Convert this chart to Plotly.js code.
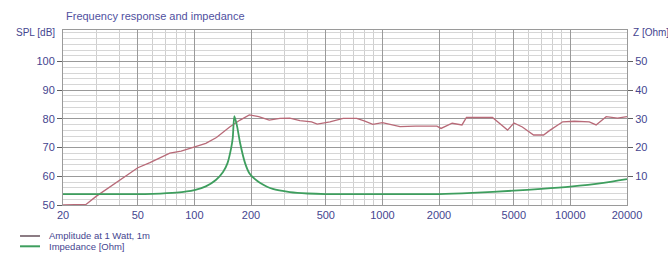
<!DOCTYPE html>
<html>
<head>
<meta charset="utf-8">
<script src="https://cdn.plot.ly/plotly-3.0.1.min.js"></script>
<style>html,body{margin:0;padding:0;background:#fff;}#chart{width:668px;height:254px;}</style>
</head>
<body>
<div id="chart"></div>
<script>
// SPL (dB)
var splFreq = [20, 26.5, 30, 40, 50, 58, 74, 85, 98, 115, 131, 154, 175, 196, 220, 250, 285, 322, 364, 420, 450, 526, 618, 730, 800, 889, 1000, 1240, 1500, 1950, 2050, 2350, 2650, 2800, 3300, 3850, 4100, 4630, 5010, 5550, 6370, 7200, 7800, 9100, 10500, 12600, 13700, 15500, 17800, 20000];
var splDb   = [50, 50.2, 53, 58.5, 63, 64.8, 68.1, 68.8, 70.2, 71.5, 73.5, 77.2, 79.6, 81.4, 80.8, 79.6, 80.2, 80.3, 79.4, 79.0, 78.2, 79.0, 80.2, 80.2, 79.3, 78.1, 78.7, 77.3, 77.5, 77.5, 76.7, 78.5, 77.9, 80.5, 80.5, 80.5, 79.0, 76.1, 78.6, 77.2, 74.4, 74.4, 76.1, 79.0, 79.2, 79.0, 77.9, 80.8, 80.3, 80.8];

// Impedance (Ohm)
var zFreq = [20, 40, 60, 80, 100, 115, 130, 142, 150, 157, 160, 163, 168, 175, 186, 196, 210, 224, 261, 322, 400, 500, 1000, 2000, 3000, 5000, 7000, 10000, 15000, 20000];
var zOhm  = [3.8, 3.8, 3.9, 4.3, 5.2, 6.5, 8.7, 11.5, 14.6, 20, 23.5, 31, 28, 21.6, 14.6, 11.1, 9, 7.7, 5.6, 4.5, 4.0, 3.8, 3.8, 3.8, 4.2, 5.0, 5.6, 6.4, 7.7, 9.0];

var seriesNames = ['Amplitude at 1 Watt, 1m', 'Impedance [Ohm]'];
var xTicks = [20, 50, 100, 200, 500, 1000, 2000, 5000, 10000, 20000];
var xMinor = [30, 40, 60, 70, 80, 90, 300, 400, 600, 700, 800, 900, 3000, 4000, 6000, 7000, 8000, 9000];
var yTicks = [50, 60, 70, 80, 90, 100];
var y2Ticks = [10, 20, 30, 40, 50];

var labelColor = '#45458f';
var splColor = '#b86a78';
var zColor = '#3e9e5e';

var traces = [
  {x: splFreq, y: splDb, type: 'scatter', mode: 'lines', name: seriesNames[0],
   line: {color: splColor, width: 1.3}},
  {x: zFreq, y: zOhm, type: 'scatter', mode: 'lines', name: seriesNames[1], yaxis: 'y2',
   line: {color: zColor, width: 1.8, shape: 'spline', smoothing: 0.6}}
];

// manual legend (paper coordinates)
var legY = [-0.177, -0.236];
var legColors = ['#8c7c84', zColor];
var shapes = [];
var annotations = [
  {text: 'Frequency response and impedance', xref: 'paper', yref: 'paper', x: 0.002, y: 1.08,
   xanchor: 'left', yanchor: 'middle', showarrow: false, font: {size: 11, color: '#5050a0'}},
  {text: 'SPL [dB]', xref: 'paper', yref: 'paper', x: -0.01, y: 0.985,
   xanchor: 'right', yanchor: 'middle', showarrow: false, font: {size: 10, color: labelColor}},
  {text: 'Z [Ohm]', xref: 'paper', yref: 'paper', x: 1.007, y: 0.985,
   xanchor: 'left', yanchor: 'middle', showarrow: false, font: {size: 10, color: labelColor}}
];
for (var i = 0; i < seriesNames.length; i++) {
  shapes.push({type: 'line', xref: 'paper', yref: 'paper', x0: -0.0762, x1: -0.0408, y0: legY[i], y1: legY[i],
               line: {color: legColors[i], width: 2}});
  annotations.push({text: seriesNames[i], xref: 'paper', yref: 'paper', x: -0.029, y: legY[i],
                    xanchor: 'left', yanchor: 'middle', showarrow: false, font: {size: 9.5, color: labelColor}});
}

var layout = {
  width: 668, height: 254,
  margin: {l: 63, r: 41, t: 30, b: 49, autoexpand: false},
  paper_bgcolor: '#fff', plot_bgcolor: '#fff',
  font: {family: 'Liberation Sans, Arial, sans-serif', size: 11, color: labelColor},
  showlegend: false,
  xaxis: {type: 'log', range: [Math.log10(20), Math.log10(20000)],
          tickmode: 'array', tickvals: xTicks, ticktext: xTicks.map(String),
          showgrid: true, gridcolor: '#9a9a9a', gridwidth: 1,
          minor: {tickmode: 'array', tickvals: xMinor, showgrid: true, gridcolor: '#cfcfcf', gridwidth: 1},
          showline: true, mirror: true, linecolor: '#9a9a9a', linewidth: 1,
          ticks: '', zeroline: false, tickfont: {size: 11, color: labelColor}},
  yaxis: {range: [50, 111], tickmode: 'array', tickvals: yTicks,
          showgrid: true, gridcolor: '#9a9a9a', gridwidth: 1,
          minor: {dtick: 2, showgrid: true, gridcolor: '#d6d6d6', gridwidth: 1},
          showline: true, linecolor: '#9a9a9a', ticks: 'outside', ticklen: 5, tickcolor: '#606060',
          zeroline: false, tickfont: {size: 11, color: labelColor}},
  yaxis2: {range: [0, 61], overlaying: 'y', side: 'right', tickmode: 'array', tickvals: y2Ticks,
           showgrid: false, showline: true, linecolor: '#9a9a9a', ticks: 'outside', ticklen: 5, tickcolor: '#606060',
           zeroline: false, tickfont: {size: 11, color: labelColor}},
  shapes: shapes,
  annotations: annotations
};

Plotly.newPlot('chart', traces, layout, {displayModeBar: false, staticPlot: true});
</script>
</body>
</html>
